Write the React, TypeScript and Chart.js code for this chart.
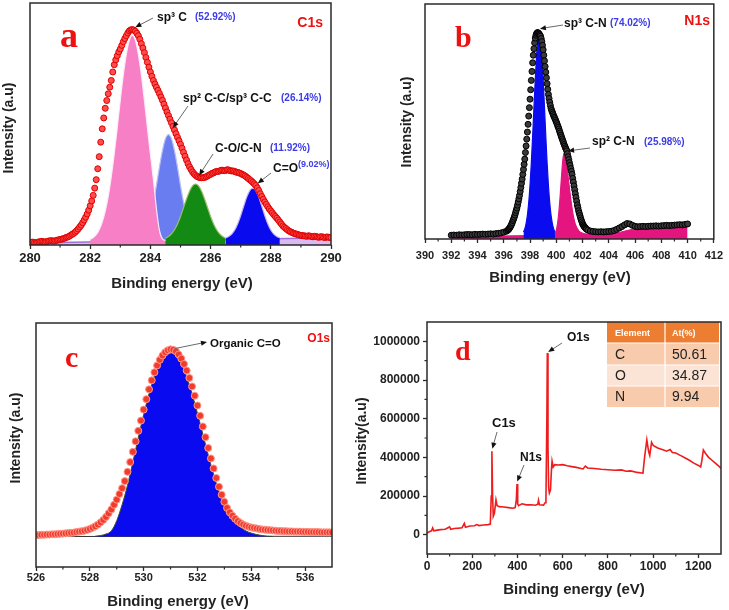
import React, { useEffect, useRef } from 'react';
import { Chart, registerables } from 'chart.js';

Chart.register(...registerables);

const PAGE_W = 729;
const PAGE_H = 610;
const SANS = '"Liberation Sans", Arial, sans-serif';
const SERIF = '"Liberation Serif", "Times New Roman", serif';
const AXIS_COLOR = '#2a2a2a';
const TICK_COLOR = '#222';
const LETTER_RED = '#ee1111';
const PCT_BLUE = '#3b3be8';

// sampling grid helper (x positions of recorded points only)
const grid = (start: number, step: number, n: number) =>
  Array.from({ length: n }, (_, i) => +(start + i * step).toFixed(3));

// ---------------- Panel a : C1s ----------------
const C1S_X_START = 280;
const C1S_X_STEP = 0.05;
const C1S_COUNTS = [
  1.0, 1.1, 1.2, 1.0, 0.9, 1.1, 1.3, 1.4, 1.5, 1.3, 1.2, 1.4, 1.6, 1.7, 1.8, 1.7, 1.6, 1.8, 2.0, 2.1,
  2.3, 2.4, 2.6, 2.8, 3.1, 3.3, 3.6, 4.0, 4.4, 4.8, 5.3, 5.9, 6.6, 7.4, 8.2, 9.2, 10.3, 11.5, 12.8, 14.4,
  16.2, 18.2, 20.5, 23.5, 27.0, 31.5, 36.5, 42.5, 48.0, 52.5, 56.5, 59.7, 62.5, 65.2, 68.0, 71.5, 74.5, 76.5, 78.2, 79.8,
  81.0, 82.5, 84.0, 85.3, 86.5, 87.6, 88.5, 88.9, 89.0, 88.8, 88.3, 87.5, 86.5, 85.0, 83.2, 81.4, 79.5, 77.5, 75.5, 73.5,
  71.5, 69.7, 68.0, 66.5, 65.2, 63.9, 62.6, 61.2, 59.8, 58.2, 56.6, 55.0, 53.5, 52.0, 50.5, 49.0, 47.5, 46.0, 44.5, 43.1,
  41.6, 40.0, 38.3, 36.7, 35.1, 33.6, 32.3, 31.2, 30.2, 29.4, 28.8, 28.3, 28.0, 27.8, 27.8, 27.8, 27.9, 28.2, 28.5, 28.9,
  29.2, 29.6, 29.8, 30.2, 30.4, 30.4, 30.6, 30.9, 30.9, 30.7, 30.8, 31.1, 31.0, 30.7, 30.6, 30.6, 30.4, 30.1, 30.0, 29.8,
  29.5, 29.2, 28.9, 28.5, 28.0, 27.5, 27.0, 26.5, 25.9, 25.3, 24.6, 23.6, 22.5, 21.2, 20.0, 18.9, 17.8, 16.8, 15.8, 14.9,
  14.1, 13.3, 12.5, 11.8, 11.1, 10.3, 9.5, 8.7, 7.9, 7.3, 6.8, 6.3, 5.8, 5.5, 5.2, 4.9, 4.7, 4.5, 4.3, 4.1,
  4.0, 3.9, 3.8, 3.7, 3.6, 3.8, 3.7, 3.5, 3.4, 3.6, 3.5, 3.3, 3.2, 3.4, 3.4, 3.2, 3.1, 3.3, 3.3, 3.1,
  3.1,
];
const C1S_SP3C_START = 282.0;
const C1S_SP3C = [2.3, 3.1, 4.3, 6.3, 9.5, 14.0, 20.1, 28.2, 37.8, 48.6, 59.8, 70.3, 78.8, 84.6, 86.6, 84.6, 78.8, 70.3, 59.8, 48.6, 37.5, 27, 15, 6, 2.5, 1.9];
const C1S_SP2CC_START = 283.6;
const C1S_SP2CC = [2.7, 3.5, 5.1, 7.8, 12, 17.7, 24.6, 32.2, 39, 43.9, 45.6, 43.9, 39, 32.2, 24.6, 17.7, 12, 7.8, 5.1, 3.5, 2.7];
const C1S_CO_START = 284.5;
const C1S_CO = [2.8, 3.5, 4.6, 6.3, 8.7, 11.8, 15.4, 19, 22.2, 24.4, 25.2, 24.4, 22.2, 19, 15.4, 11.8, 8.7, 6.3, 4.6, 3.5, 2.8];
const C1S_CEQO_START = 286.5;
const C1S_CEQO = [3.0, 3.5, 4.5, 6.2, 8.8, 12.2, 16.1, 19.8, 22.5, 23.5, 22.5, 19.8, 16.1, 12.2, 8.8, 6.2, 4.5, 3.5, 3.0];
const C1S_BASE_X = [280, 290];
const C1S_BASE_Y = [0.8, 3.0];
const A_TICKS = [280, 282, 284, 286, 288, 290];
const A_MINOR = [281, 283, 285, 287, 289];

// ---------------- Panel b : N1s ----------------
const N1S_LOW_START = 392.0;
const N1S_LOW_STEP = 0.2;
const N1S_LOW = [1.6, 1.7, 1.6, 1.8, 1.7, 1.8, 1.9, 1.9, 1.8, 2.0, 1.9, 2.0, 2.1, 2.0, 2.1, 2.2, 2.1, 2.3, 2.4, 2.6, 2.9, 3.3];
const N1S_PEAK_START = 396.3;
const N1S_PEAK_STEP = 0.05;
const N1S_PEAK = [
  3.7, 4.0, 4.3, 4.7, 5.2, 5.7, 6.3, 7.0, 7.8, 8.5, 9.3, 10.2, 11.2, 12.2,
  13.2, 14.4, 15.7, 17.1, 18.5, 20.2, 21.9, 23.7, 25.5, 27.5, 29.6, 31.8, 34.0, 36.8, 39.6, 42.5, 45.5, 48.8, 52.3, 55.9,
  59.5, 63.5, 67.5, 71.3, 75.0, 78.2, 81.0, 83.5, 85.5, 86.7, 87.4, 87.8, 87.8, 87.6, 87.2, 86.8, 86.3, 85.3, 84.0, 82.4,
  80.5, 78.2, 75.8, 73.4, 71.0, 68.6, 66.1, 63.7, 61.5, 59.8, 58.2, 56.8, 55.5, 54.7, 53.9, 53.2, 52.5, 51.8, 51.2, 50.5,
  49.8, 49.1, 48.3, 47.6, 46.8, 45.9, 45.1, 44.2, 43.4, 42.6, 41.8, 41.0, 40.2, 39.5, 38.8, 38.2, 37.5, 36.3, 35.0, 33.8,
  32.5, 31.3, 30.0, 28.8, 27.5, 25.8, 24.2, 22.6, 21.0, 19.3, 17.7, 16.1, 14.5, 13.3, 12.0, 11.0, 10.0, 9.0, 8.1, 7.3,
  6.5, 6.0, 5.5, 5.1, 4.8, 4.5, 4.2,
];
const N1S_HIGH_START = 402.4;
const N1S_HIGH_STEP = 0.2;
const N1S_HIGH = [
  3.8, 3.4, 3.2, 3.1, 3.0, 3.1, 3.0, 3.1,
  3.2, 3.3, 3.6, 4.1, 4.7, 5.3, 6.0, 6.6, 6.4, 5.8,
  5.4, 5.2, 5.3, 5.4, 5.3, 5.4, 5.5, 5.5, 5.6, 5.5,
  5.6, 5.7, 5.8, 5.7, 5.8, 5.9, 6.0, 6.1, 6.0, 6.2,
  6.4,
];
const N1S_SP3CN_START = 397.5;
const N1S_SP3CN = [3.0, 4.3, 6.6, 10.2, 15.5, 23, 32.5, 43.9, 56.2, 68.1, 78.3, 85.1, 87.5, 85.1, 78.3, 68.1, 56.2, 43.9, 32.5, 23, 15.5, 10.2, 6.6, 4.3, 3.0];
const N1S_SP2CN_START = 399.9;
const N1S_SP2CN = [2.2, 3.7, 6.7, 11.7, 18.7, 26.7, 33.7, 36.7, 35.7, 31.7, 26.7, 21.7, 17.2, 13.2, 9.8, 7.3, 5.6, 4.4, 3.6, 3.0, 2.7, 2.5, 2.3, 2.2];
const N1S_BASE_X = [392, 396, 400, 402, 404, 404.8, 405.3, 405.8, 406.5, 408, 410];
const N1S_BASE_Y = [1.0, 1.3, 1.7, 2.1, 2.4, 2.8, 3.5, 4.1, 4.5, 4.9, 5.4];
const B_TICKS = [390, 392, 394, 396, 398, 400, 402, 404, 406, 408, 410, 412];
const B_MINOR = [391, 393, 395, 397, 399, 401, 403, 405, 407, 409, 411];

// ---------------- Panel c : O1s ----------------
const O1S_X_START = 526;
const O1S_X_STEP = 0.1;
const O1S_COUNTS = [
  13.1, 13.1, 13.2, 13.2, 13.3, 13.3, 13.4, 13.4, 13.5, 13.6,
  13.7, 13.8, 13.9, 14.0, 14.1, 14.3, 14.5, 14.7, 14.9, 15.2,
  15.6, 16.1, 16.7, 17.4, 18.3, 19.3, 20.5, 22.0, 23.6, 25.5,
  27.6, 29.9, 32.3, 35.2, 39.0, 43.0, 47.2, 51.5, 55.8, 60.0,
  64.5, 68.8, 72.8, 76.5, 79.8, 82.6, 84.9, 86.7, 88.0, 88.8,
  89.2, 89.0, 88.4, 87.1, 85.4, 83.2, 80.5, 77.5, 74.0, 70.2,
  66.2, 62.0, 57.6, 53.2, 48.8, 44.5, 40.4, 36.5, 32.9, 29.6,
  26.7, 24.2, 22.4, 21.0, 19.8, 18.8, 18.0, 17.4, 16.9, 16.5,
  16.2, 16.0, 15.8, 15.6, 15.4, 15.3, 15.2, 15.1, 15.0, 14.9,
  14.8, 14.8, 14.7, 14.7, 14.6, 14.6, 14.5, 14.5, 14.5, 14.4,
  14.4, 14.4, 14.3, 14.3, 14.3, 14.3, 14.2, 14.2, 14.2, 14.2,
  14.2,
];
const O1S_FIT_START = 528.2;
const O1S_FIT_STEP = 0.2;
const O1S_FIT = [12.6, 12.9, 13.5, 14.8, 19, 25.5, 33.5, 43, 53, 62.5, 71, 78.5, 84, 87, 88, 87, 83.5, 78, 71, 63, 54.5, 46, 38, 31, 25.5, 21.5, 18.5, 16.3, 14.8, 13.9, 13.3, 12.9, 12.6, 12.5];
const O1S_BASE_X = [526, 537];
const O1S_BASE_Y = [12.5, 12.6];
const O1S_FILL_LEVEL = 12.5;
const C_TICKS = [526, 528, 530, 532, 534, 536];
const C_MINOR = [527, 529, 531, 533, 535];

// ---------------- Panel d : survey ----------------
const SURVEY_X = [0, 10, 20, 25, 30, 40, 60, 80, 100, 105, 120, 140, 155, 165, 170, 190, 210, 220, 230, 250, 270, 280, 284, 287, 290, 293, 298, 305, 310, 320, 340, 360, 380, 390, 395, 398, 401, 405, 420, 440, 460, 480, 490, 493, 497, 515, 522, 526, 530, 532, 535, 538, 541, 546, 550, 553, 558, 565, 580, 600, 620, 640, 660, 690, 700, 710, 740, 770, 800, 830, 860, 880, 900, 930, 955, 962, 972, 980, 985, 993, 1000, 1020, 1040, 1060, 1075, 1085, 1100, 1120, 1140, 1160, 1180, 1200, 1210, 1215, 1222, 1232, 1245, 1260, 1275, 1290, 1300];
const SURVEY_Y = [8000, 15000, 20000, 35000, 20000, 22000, 26000, 28000, 40000, 28000, 32000, 34000, 36000, 58000, 38000, 45000, 46000, 52000, 47000, 50000, 52000, 55000, 200000, 432000, 200000, 95000, 110000, 180000, 150000, 145000, 143000, 140000, 137000, 140000, 180000, 262000, 160000, 150000, 160000, 154000, 155000, 152000, 158000, 178000, 155000, 153000, 165000, 190000, 600000, 939000, 450000, 240000, 215000, 230000, 330000, 380000, 350000, 362000, 360000, 362000, 356000, 352000, 348000, 340000, 355000, 345000, 342000, 338000, 336000, 333000, 335000, 328000, 330000, 322000, 318000, 400000, 490000, 430000, 410000, 478000, 462000, 448000, 440000, 432000, 440000, 425000, 422000, 410000, 398000, 385000, 370000, 358000, 350000, 380000, 438000, 420000, 400000, 385000, 370000, 355000, 343000];
const D_X_TICKS = [0, 200, 400, 600, 800, 1000, 1200];
const D_X_MINOR = [100, 300, 500, 700, 900, 1100];
const D_Y_TICKS = [0, 200000, 400000, 600000, 800000, 1000000];
const D_Y_MINOR = [100000, 300000, 500000, 700000, 900000];
const TABLE_HEAD = ['Element', 'At(%)'];
const TABLE_ELEMENTS = ['C', 'O', 'N'];
const TABLE_AT = ['50.61', '34.87', '9.94'];

// ---------------- helpers ----------------
const pts = (xs: number[], ys: number[]) => xs.map((x, i) => ({ x, y: ys[i] }));

type Pt = { px?: [number, number]; data?: [number, number] };
interface Label {
  text: string; x: number; y: number; font: string; color: string;
  align?: CanvasTextAlign; baseline?: CanvasTextBaseline; rotate?: boolean;
}
interface ArrowSpec { tail: Pt; head: Pt }
interface Decor {
  minorX: number[]; minorY?: number[]; labels: Label[]; arrows: ArrowSpec[]; table?: boolean;
}

function drawArrow(ctx: CanvasRenderingContext2D, x1: number, y1: number, x2: number, y2: number) {
  const ang = Math.atan2(y2 - y1, x2 - x1);
  const hl = 6, hw = 2.6;
  ctx.strokeStyle = '#6a6a6a';
  ctx.lineWidth = 1;
  ctx.beginPath();
  ctx.moveTo(x1, y1);
  ctx.lineTo(x2 - Math.cos(ang) * hl * 0.8, y2 - Math.sin(ang) * hl * 0.8);
  ctx.stroke();
  ctx.fillStyle = '#111';
  ctx.beginPath();
  ctx.moveTo(x2, y2);
  ctx.lineTo(x2 - Math.cos(ang) * hl - Math.sin(ang) * hw, y2 - Math.sin(ang) * hl + Math.cos(ang) * hw);
  ctx.lineTo(x2 - Math.cos(ang) * hl + Math.sin(ang) * hw, y2 - Math.sin(ang) * hl - Math.cos(ang) * hw);
  ctx.closePath();
  ctx.fill();
}

function drawTable(ctx: CanvasRenderingContext2D) {
  const xs = [607, 665, 719];
  const ys = [322, 343, 365, 386, 407];
  const fills = ['#ed7d31', '#f8cbad', '#fbe4d5', '#f8cbad'];
  for (let r = 0; r < 4; r++) {
    ctx.fillStyle = fills[r];
    ctx.fillRect(xs[0], ys[r], xs[2] - xs[0], ys[r + 1] - ys[r]);
  }
  ctx.strokeStyle = '#ffffff';
  ctx.lineWidth = 1.2;
  ctx.beginPath();
  for (let r = 1; r < 4; r++) { ctx.moveTo(xs[0], ys[r]); ctx.lineTo(xs[2], ys[r]); }
  ctx.moveTo(xs[1], ys[0]); ctx.lineTo(xs[1], ys[4]);
  ctx.stroke();
  ctx.textBaseline = 'middle';
  ctx.textAlign = 'left';
  ctx.fillStyle = '#ffffff';
  ctx.font = `bold 9px ${SANS}`;
  ctx.fillText(TABLE_HEAD[0], xs[0] + 8, (ys[0] + ys[1]) / 2 + 1);
  ctx.fillText(TABLE_HEAD[1], xs[1] + 7, (ys[0] + ys[1]) / 2 + 1);
  ctx.fillStyle = '#222';
  ctx.font = `14px ${SANS}`;
  for (let r = 0; r < 3; r++) {
    const cy = (ys[r + 1] + ys[r + 2]) / 2 + 1;
    ctx.fillText(TABLE_ELEMENTS[r], xs[0] + 8, cy);
    ctx.fillText(TABLE_AT[r], xs[1] + 7, cy);
  }
}

function makeDecor(d: Decor) {
  return {
    id: 'decor',
    afterDraw(chart: any) {
      const { ctx, chartArea: ca, scales } = chart;
      const xs = scales.x;
      const ys = scales.y;
      const toPx = (p: Pt): [number, number] =>
        p.px ? p.px : [xs.getPixelForValue(p.data![0]), ys.getPixelForValue(p.data![1])];
      ctx.save();
      ctx.strokeStyle = AXIS_COLOR;
      ctx.lineWidth = 1.2;
      ctx.beginPath();
      d.minorX.forEach((v) => {
        const x = xs.getPixelForValue(v);
        ctx.moveTo(x, ca.bottom);
        ctx.lineTo(x, ca.bottom + 2.5);
      });
      (d.minorY || []).forEach((v) => {
        const y = ys.getPixelForValue(v);
        ctx.moveTo(ca.left, y);
        ctx.lineTo(ca.left - 2.5, y);
      });
      ctx.stroke();
      if (d.table) drawTable(ctx);
      ctx.strokeStyle = AXIS_COLOR;
      ctx.lineWidth = 1.5;
      ctx.strokeRect(ca.left, ca.top, ca.right - ca.left, ca.bottom - ca.top);
      d.arrows.forEach((a) => {
        const [x1, y1] = toPx(a.tail);
        const [x2, y2] = toPx(a.head);
        drawArrow(ctx, x1, y1, x2, y2);
      });
      d.labels.forEach((l) => {
        ctx.save();
        ctx.font = l.font;
        ctx.fillStyle = l.color;
        ctx.textAlign = l.align || 'left';
        ctx.textBaseline = l.baseline || 'alphabetic';
        if (l.rotate) {
          ctx.translate(l.x, l.y);
          ctx.rotate(-Math.PI / 2);
          ctx.fillText(l.text, 0, 0);
        } else {
          ctx.fillText(l.text, l.x, l.y);
        }
        ctx.restore();
      });
      ctx.restore();
    },
  };
}

function xScale(min: number, max: number, ticks: number[], size: number, pad: number) {
  return {
    type: 'linear',
    min,
    max,
    afterBuildTicks: (s: any) => { s.ticks = ticks.map((v) => ({ value: v })); },
    afterFit: (s: any) => { s.height = 40; },
    grid: { display: true, drawOnChartArea: false, drawTicks: true, tickLength: 4, tickColor: AXIS_COLOR, tickWidth: 1.3 },
    border: { display: false },
    ticks: {
      color: TICK_COLOR, padding: pad, maxRotation: 0, minRotation: 0, autoSkip: false,
      font: { family: SANS, size, weight: 'bold' },
      callback: (v: any) => String(v),
    },
  };
}

const hiddenY = (min: number, max: number) => ({ type: 'linear', min, max, display: false });

function layoutFor(L: number, T: number, R: number, B: number, yW = 0) {
  return {
    autoPadding: false,
    padding: { left: L - yW, top: T, right: PAGE_W - R, bottom: PAGE_H - B - 40 },
  };
}

const baseOptions = {
  responsive: false,
  animation: false,
  devicePixelRatio: 1,
  events: [],
  plugins: { legend: { display: false }, tooltip: { enabled: false } },
};

const bold = (n: number) => `bold ${n}px ${SANS}`;
const serif = (n: number) => `bold ${n}px ${SERIF}`;

const fillPeak = (data: any[], color: string, border: string) => ({
  data, fill: 'origin', backgroundColor: color, borderColor: border, borderWidth: 1.2,
  pointRadius: 0, cubicInterpolationMode: 'monotone',
});

// ---------------- configs ----------------
function configA(): any {
  return {
    type: 'line',
    data: {
      datasets: [
        {
          data: pts(grid(C1S_X_START, C1S_X_STEP, C1S_COUNTS.length), C1S_COUNTS),
          showLine: false, pointRadius: 3, pointBackgroundColor: '#ff4d4d', pointBorderColor: '#e00000', pointBorderWidth: 1,
        },
        fillPeak(pts(grid(C1S_SP3C_START, 0.1, C1S_SP3C.length), C1S_SP3C), '#f77fc6', 'rgba(255,236,250,0.95)'),
        fillPeak(pts(grid(C1S_CO_START, 0.1, C1S_CO.length), C1S_CO), '#138a13', '#9bbf6a'),
        fillPeak(pts(grid(C1S_SP2CC_START, 0.1, C1S_SP2CC.length), C1S_SP2CC), '#6a7df0', '#b9c0f5'),
        fillPeak(pts(grid(C1S_CEQO_START, 0.1, C1S_CEQO.length), C1S_CEQO), '#0a0aee', '#c8b8f0'),
        {
          data: pts(C1S_BASE_X, C1S_BASE_Y), fill: 'origin', backgroundColor: 'rgba(214,180,240,0.9)',
          borderColor: '#a070d8', borderWidth: 1.5, pointRadius: 0,
        },
      ],
    },
    options: {
      ...baseOptions,
      layout: layoutFor(30, 3, 331, 245),
      scales: { x: xScale(280, 290, A_TICKS, 13, 2), y: hiddenY(0, 100) },
    },
    plugins: [makeDecor({
      minorX: A_MINOR,
      arrows: [
        { tail: { px: [153, 18] }, head: { data: [283.5, 90] } },
        { tail: { px: [188, 106] }, head: { data: [284.75, 48.5] } },
        { tail: { px: [213, 154] }, head: { data: [285.62, 28.8] } },
        { tail: { px: [271, 173] }, head: { data: [287.57, 25.5] } },
      ],
      labels: [
        { text: 'a', x: 60, y: 47, font: serif(36), color: LETTER_RED },
        { text: 'C1s', x: 323, y: 27, font: bold(14), color: LETTER_RED, align: 'right' },
        { text: 'sp³ C', x: 157, y: 21, font: bold(12), color: '#111' },
        { text: '(52.92%)', x: 195, y: 20, font: bold(10), color: PCT_BLUE },
        { text: 'sp² C-C/sp³ C-C', x: 183, y: 102, font: bold(12), color: '#111' },
        { text: '(26.14%)', x: 281, y: 101, font: bold(10), color: PCT_BLUE },
        { text: 'C-O/C-N', x: 215, y: 152, font: bold(12), color: '#111' },
        { text: '(11.92%)', x: 270, y: 151, font: bold(10), color: PCT_BLUE },
        { text: 'C=O', x: 273, y: 172, font: bold(12), color: '#111' },
        { text: '(9.02%)', x: 298, y: 167, font: bold(9), color: PCT_BLUE },
        { text: 'Binding energy (eV)', x: 182, y: 284, font: bold(15), color: '#222', align: 'center', baseline: 'middle' },
        { text: 'Intensity (a.u)', x: 9, y: 128, font: bold(14), color: '#222', align: 'center', baseline: 'middle', rotate: true },
      ],
    })],
  };
}

function configB(): any {
  const nData = [
    ...pts(grid(N1S_LOW_START, N1S_LOW_STEP, N1S_LOW.length), N1S_LOW),
    ...pts(grid(N1S_PEAK_START, N1S_PEAK_STEP, N1S_PEAK.length), N1S_PEAK),
    ...pts(grid(N1S_HIGH_START, N1S_HIGH_STEP, N1S_HIGH.length), N1S_HIGH),
  ];
  return {
    type: 'line',
    data: {
      datasets: [
        {
          data: nData,
          showLine: false, pointRadius: 3, pointBackgroundColor: '#3a3a3a', pointBorderColor: '#000', pointBorderWidth: 1,
        },
        fillPeak(pts(grid(N1S_SP3CN_START, 0.1, N1S_SP3CN.length), N1S_SP3CN), '#0b0bf0', '#0b0bf0'),
        fillPeak(pts(grid(N1S_SP2CN_START, 0.1, N1S_SP2CN.length), N1S_SP2CN), '#e4157f', '#e4157f'),
        {
          data: pts(N1S_BASE_X, N1S_BASE_Y), fill: 'origin', backgroundColor: '#e4157f',
          borderColor: '#e4157f', borderWidth: 1, pointRadius: 0,
        },
      ],
    },
    options: {
      ...baseOptions,
      layout: layoutFor(425, 4, 714, 239),
      scales: { x: xScale(390, 412, B_TICKS, 11, 6), y: hiddenY(0, 100) },
    },
    plugins: [makeDecor({
      minorX: B_MINOR,
      arrows: [
        { tail: { px: [563, 25] }, head: { data: [398.75, 89.5] } },
        { tail: { px: [590, 148] }, head: { data: [400.9, 37.5] } },
      ],
      labels: [
        { text: 'b', x: 455, y: 47, font: serif(30), color: LETTER_RED },
        { text: 'N1s', x: 710, y: 25, font: bold(14), color: LETTER_RED, align: 'right' },
        { text: 'sp³ C-N', x: 564, y: 27, font: bold(12), color: '#111' },
        { text: '(74.02%)', x: 610, y: 26, font: bold(10), color: PCT_BLUE },
        { text: 'sp² C-N', x: 592, y: 145, font: bold(12), color: '#111' },
        { text: '(25.98%)', x: 644, y: 145, font: bold(10), color: PCT_BLUE },
        { text: 'Binding energy (eV)', x: 560, y: 278, font: bold(15), color: '#222', align: 'center', baseline: 'middle' },
        { text: 'Intensity (a.u)', x: 407.5, y: 122, font: bold(14), color: '#222', align: 'center', baseline: 'middle', rotate: true },
      ],
    })],
  };
}

function configC(): any {
  return {
    type: 'line',
    data: {
      datasets: [
        {
          data: pts(grid(O1S_X_START, O1S_X_STEP, O1S_COUNTS.length), O1S_COUNTS),
          showLine: false, pointRadius: 3.5, pointBackgroundColor: '#f23b2b', pointBorderColor: '#ff9a8e', pointBorderWidth: 1,
        },
        {
          data: pts(grid(O1S_FIT_START, O1S_FIT_STEP, O1S_FIT.length), O1S_FIT),
          fill: { value: O1S_FILL_LEVEL }, backgroundColor: '#0a0af0', borderColor: '#3a4f2a', borderWidth: 1,
          pointRadius: 0, cubicInterpolationMode: 'monotone',
        },
        {
          data: pts(O1S_BASE_X, O1S_BASE_Y), borderColor: '#333', borderWidth: 1, pointRadius: 0, fill: false,
        },
      ],
    },
    options: {
      ...baseOptions,
      layout: layoutFor(36, 323, 332, 567),
      scales: { x: xScale(526, 537, C_TICKS, 11, 0.5), y: hiddenY(0, 100) },
    },
    plugins: [makeDecor({
      minorX: C_MINOR,
      arrows: [
        { tail: { data: [531.15, 89.5] }, head: { px: [207, 342] } },
      ],
      labels: [
        { text: 'c', x: 65, y: 367, font: serif(30), color: LETTER_RED },
        { text: 'O1s', x: 330, y: 342, font: bold(12), color: LETTER_RED, align: 'right' },
        { text: 'Organic C=O', x: 210, y: 347, font: bold(11.5), color: '#111' },
        { text: 'Binding energy (eV)', x: 178, y: 602, font: bold(15), color: '#222', align: 'center', baseline: 'middle' },
        { text: 'Intensity (a.u)', x: 16, y: 438, font: bold(14), color: '#222', align: 'center', baseline: 'middle', rotate: true },
      ],
    })],
  };
}

function configD(): any {
  return {
    type: 'line',
    data: {
      datasets: [
        {
          data: pts(SURVEY_X, SURVEY_Y), borderColor: '#ee1c1c', borderWidth: 1.6, pointRadius: 0, fill: false, tension: 0,
        },
      ],
    },
    options: {
      ...baseOptions,
      layout: layoutFor(427, 322, 721, 554, 60),
      scales: {
        x: xScale(0, 1300, D_X_TICKS, 12, 1),
        y: {
          type: 'linear', min: -100000, max: 1100000,
          afterBuildTicks: (s: any) => { s.ticks = D_Y_TICKS.map((v) => ({ value: v })); },
          afterFit: (s: any) => { s.width = 60; },
          grid: { display: true, drawOnChartArea: false, drawTicks: true, tickLength: 4, tickColor: AXIS_COLOR, tickWidth: 1.3 },
          border: { display: false },
          ticks: {
            color: TICK_COLOR, padding: 3, autoSkip: false,
            font: { family: SANS, size: 12, weight: 'bold' },
            callback: (v: any) => String(v),
          },
        },
      },
    },
    plugins: [makeDecor({
      minorX: D_X_MINOR,
      minorY: D_Y_MINOR,
      table: true,
      arrows: [
        { tail: { px: [562, 343] }, head: { data: [536, 945000] } },
        { tail: { px: [497, 432] }, head: { data: [289, 445000] } },
        { tail: { px: [524, 465] }, head: { data: [399, 275000] } },
      ],
      labels: [
        { text: 'd', x: 455, y: 360, font: serif(28), color: LETTER_RED },
        { text: 'O1s', x: 567, y: 341, font: bold(12), color: '#111' },
        { text: 'C1s', x: 492, y: 427, font: bold(13), color: '#111' },
        { text: 'N1s', x: 520, y: 461, font: bold(12), color: '#111' },
        { text: 'Binding energy (eV)', x: 574, y: 590, font: bold(15), color: '#222', align: 'center', baseline: 'middle' },
        { text: 'Intensity(a.u)', x: 362, y: 441, font: bold(14), color: '#222', align: 'center', baseline: 'middle', rotate: true },
      ],
    })],
  };
}

function Panel({ make }: { make: () => any }) {
  const ref = useRef<HTMLCanvasElement>(null);
  useEffect(() => {
    if (!ref.current) return;
    const chart = new Chart(ref.current, make());
    return () => chart.destroy();
  }, [make]);
  return (
    <canvas
      ref={ref}
      width={PAGE_W}
      height={PAGE_H}
      style={{ position: 'absolute', left: 0, top: 0, width: PAGE_W, height: PAGE_H }}
    />
  );
}

export default function App() {
  return (
    <div style={{ position: 'absolute', left: 0, top: 0, width: PAGE_W, height: PAGE_H, background: '#ffffff', overflow: 'hidden' }}>
      <Panel make={configA} />
      <Panel make={configB} />
      <Panel make={configC} />
      <Panel make={configD} />
    </div>
  );
}
